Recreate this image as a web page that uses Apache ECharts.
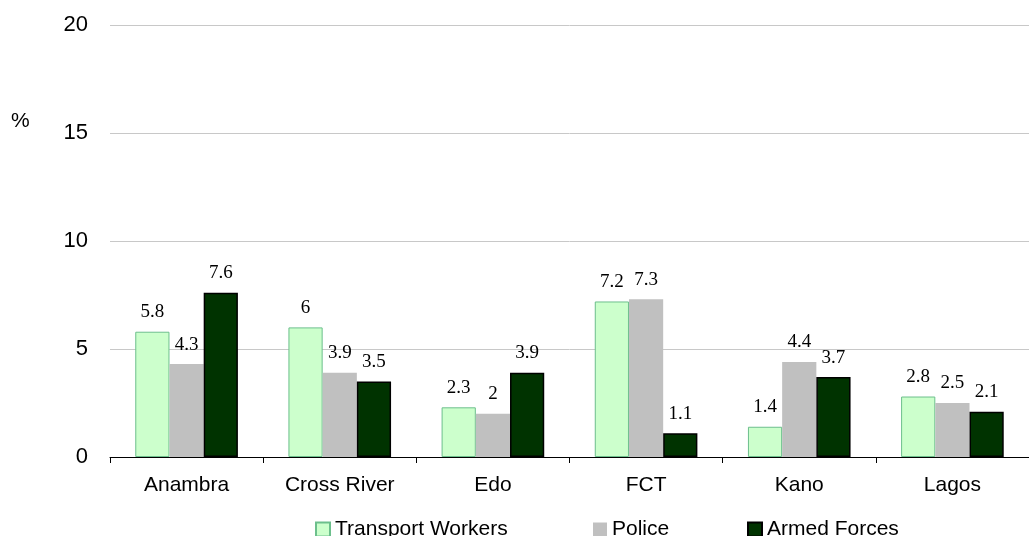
<!DOCTYPE html>
<html>
<head>
<meta charset="utf-8">
<script src="https://cdn.jsdelivr.net/npm/echarts@6/dist/echarts.min.js"></script>
<style>
html,body{margin:0;padding:0;background:#fff;}
#chart{width:1029px;height:536px;}
</style>
</head>
<body>
<div id="chart"></div>
<script>
var categories = ['Anambra', 'Cross River', 'Edo', 'FCT', 'Kano', 'Lagos'];
var seriesNames = ['Transport Workers', 'Police', 'Armed Forces'];
var transportWorkers = [5.8, 6, 2.3, 7.2, 1.4, 2.8];
var police = [4.3, 3.9, 2, 7.3, 4.4, 2.5];
var armedForces = [7.6, 3.5, 3.9, 1.1, 3.7, 2.1];
var yTicks = [0, 5, 10, 15, 20];

var labelStyle = {
	show: true,
	position: 'top',
	distance: 10,
	fontFamily: 'Liberation Serif',
	fontSize: 19,
	color: '#000'
};

// one legend per item so each can sit where the original has it
var legendLefts = [310, 588, 742];
var legends = [];
for (var i = 0; i < seriesNames.length; i++) {
	legends.push({
		left: legendLefts[i], top: 514,
		icon: 'rect', itemWidth: 14, itemHeight: 14,
		textStyle: { fontFamily: 'Liberation Sans', fontSize: 21, color: '#000' },
		data: [seriesNames[i]]
	});
}

var myChart = echarts.init(document.getElementById('chart'));
var option = {
	animation: false,
	grid: { left: 110, top: 25, width: 930, height: 432 },
	graphic: [{
		type: 'text', left: 11, top: 111,
		style: { text: '%', font: '21px "Liberation Sans"', fill: '#000' }
	}],
	legend: legends,
	xAxis: {
		type: 'category',
		data: categories,
		axisLine: { lineStyle: { color: '#000' } },
		axisTick: { show: true, length: 6, lineStyle: { color: '#000' } },
		axisLabel: { fontFamily: 'Liberation Sans', fontSize: 21, color: '#000', margin: 18 }
	},
	yAxis: {
		type: 'value',
		min: yTicks[0], max: yTicks[yTicks.length - 1], interval: 5,
		axisLine: { show: false },
		axisTick: { show: false },
		axisLabel: { fontFamily: 'Liberation Sans', fontSize: 22, color: '#000', margin: 22 },
		splitLine: { lineStyle: { color: '#c8c8c8' } }
	},
	series: [
		{
			name: seriesNames[0], type: 'bar', data: transportWorkers,
			barGap: '0%', barCategoryGap: '33%',
			itemStyle: { color: '#ccffcc', borderColor: '#6cbf8c', borderWidth: 1 },
			label: labelStyle
		},
		{
			name: seriesNames[1], type: 'bar', data: police,
			itemStyle: { color: '#c0c0c0' },
			label: labelStyle
		},
		{
			name: seriesNames[2], type: 'bar', data: armedForces,
			itemStyle: { color: '#003300', borderColor: '#000', borderWidth: 1.5 },
			label: labelStyle
		}
	]
};
myChart.setOption(option);
</script>
</body>
</html>
